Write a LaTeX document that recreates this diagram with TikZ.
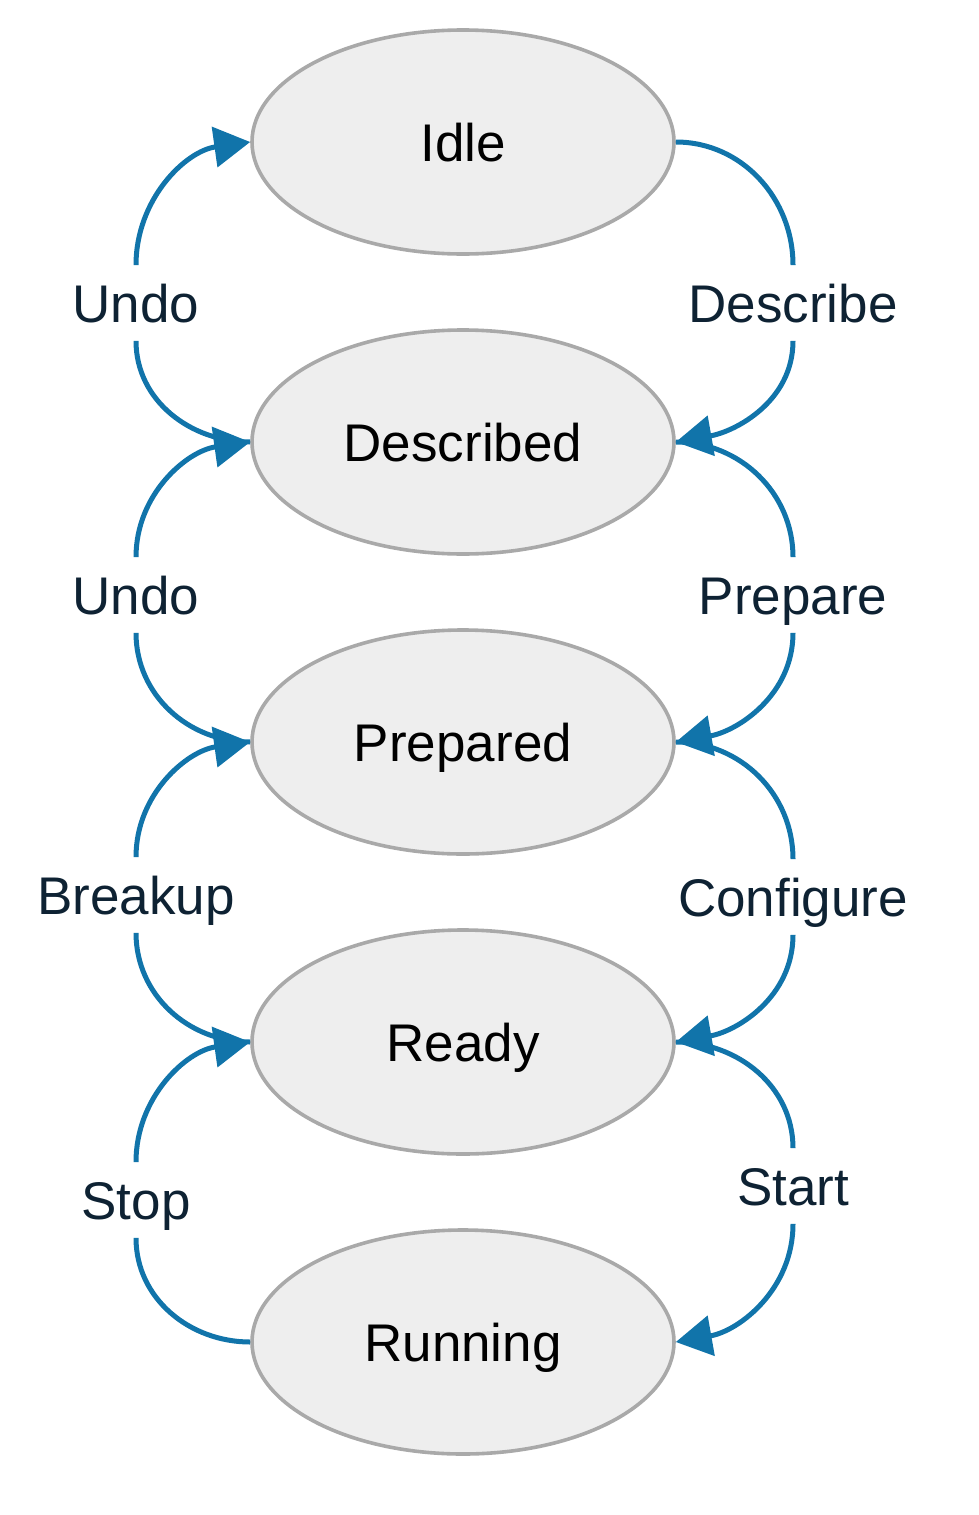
\documentclass[tikz,border=0pt]{standalone}
\usepackage{fontspec}
\setmainfont{Liberation Sans}
\usetikzlibrary{arrows.meta, shapes.geometric, positioning}
\definecolor{edgeblue}{HTML}{1174AA}
\definecolor{nodegray}{HTML}{A9A9A9}
\definecolor{nodefill}{HTML}{EEEEEE}
\definecolor{labelnavy}{HTML}{0E2233}

\begin{document}
\begin{tikzpicture}[x=0.5pt, y=-0.5pt, >={Triangle[length=18pt,width=20pt]},
    state/.style={ellipse, draw=nodegray, line width=1.8pt, fill=nodefill,
      minimum width=211pt, minimum height=112pt, inner sep=0pt,
      text height=21pt, text depth=2pt,
      font=\fontsize{26.5}{30}\selectfont},
    trans/.style={text=labelnavy, font=\fontsize{26.5}{30}\selectfont,
      text height=21pt, text depth=2pt, inner xsep=0pt, inner ysep=7.25pt},
    link/.style={draw=edgeblue, line width=2.5pt}]

      \useasboundingbox (0, 0) rectangle (979, 1515);

      % states
      \node[state] (idle) at (463, 142) {Idle};
      \node[state] (described) at (463, 442) {Described};
      \node[state] (prepared) at (463, 742) {Prepared};
      \node[state] (ready) at (463, 1042) {Ready};
      \node[state] (running) at (463, 1342) {Running};

      % labels, left side
      \node[trans] (undoA) at (136, 303) {Undo};
      \node[trans] (undoB) at (136, 595) {Undo};
      \node[trans] (breakup) at (136, 895) {Breakup};
      \node[trans] (stop) at (136, 1200) {Stop};

      % labels, right side
      \node[trans] (describe) at (793, 303) {Describe};
      \node[trans] (prepare) at (793, 595) {Prepare};
      \node[trans] (configure) at (793, 897) {Configure};
      \node[trans] (start) at (793, 1186) {Start};

      % going back up
      \draw[link] (described.west) to[out=180, in=-90] (undoA.south);
      \draw[link, ->] (undoA.north) to[out=90, in=188] (idle.west);
      \draw[link] (prepared.west) to[out=180, in=-90] (undoB.south);
      \draw[link, ->] (undoB.north) to[out=90, in=188] (described.west);
      \draw[link] (ready.west) to[out=180, in=-90] (breakup.south);
      \draw[link, ->] (breakup.north) to[out=90, in=188] (prepared.west);
      \draw[link] (running.west) to[out=180, in=-90] (stop.south);
      \draw[link, ->] (stop.north) to[out=90, in=188] (ready.west);

      % going down
      \draw[link] (idle.east) to[out=0, in=90] (describe.north);
      \draw[link, ->] (describe.south) to[out=-90, in=10] (described.east);
      \draw[link] (described.east) to[out=0, in=90] (prepare.north);
      \draw[link, ->] (prepare.south) to[out=-90, in=10] (prepared.east);
      \draw[link] (prepared.east) to[out=0, in=90] (configure.north);
      \draw[link, ->] (configure.south) to[out=-90, in=10] (ready.east);
      \draw[link] (ready.east) to[out=0, in=90] (start.north);
      \draw[link, ->] (start.south) to[out=-90, in=10] (running.east);
    \end{tikzpicture}
\end{document}
